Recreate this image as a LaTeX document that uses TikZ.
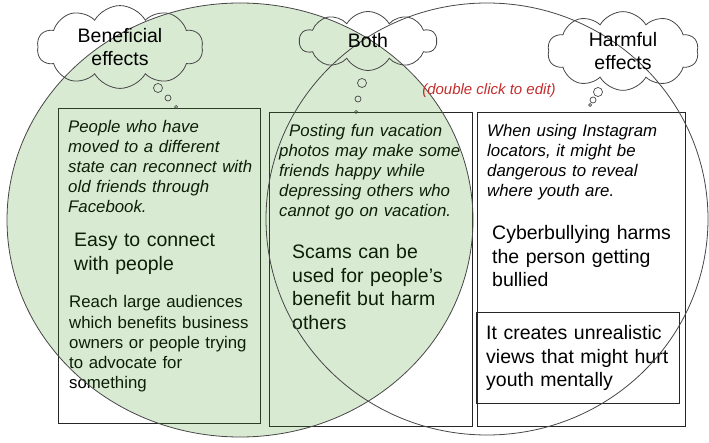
\documentclass[tikz,border=0pt]{standalone}
\usepackage{fontspec}
\setmainfont{Liberation Sans}
\usetikzlibrary{shapes.symbols}

\definecolor{vennGreen}{RGB}{65,150,35}
\definecolor{editRed}{RGB}{196,44,44}
\definecolor{lineGray}{RGB}{70,70,70}

\begin{document}
\begin{tikzpicture}[x=1pt, y=-1pt,
    box/.style={draw=black!85, line width=0.9pt, inner sep=0pt, anchor=north west},
    note/.style={font=\fontsize{16.8}{20}\selectfont\itshape, text width=200pt, align=left, inner sep=0pt, anchor=base west},
    plain/.style={font=\fontsize{16.8}{20.2}\selectfont, text width=200pt, align=left, inner sep=0pt, anchor=base west},
    point/.style={font=\fontsize{19.5}{23.5}\selectfont, text width=200pt, align=left, inner sep=0pt, anchor=base west},
    thought/.style={draw=lineGray, line width=0.8pt, cloud, cloud puffs=10, cloud puff arc=120,
        cloud ignores aspect, align=center, font=\fontsize{19.5}{23.5}\selectfont},
    bubble/.style={draw=lineGray, line width=0.7pt}]
    % Background
    \useasboundingbox (0,0) rectangle (709,443);

    % Boxes
    \node[box, minimum width=202, minimum height=315] (benefitBox) at (58,108) {};
    \node[box, minimum width=203, minimum height=314] (bothBox) at (269,112) {};
    \node[box, minimum width=208, minimum height=314] (harmBox) at (477,112) {};
    \node[box, minimum width=203, minimum height=91] (mentalBox) at (476,312) {};

    % Beneficial effects
    \node[note] (benefitNote) at (68,133) {People who have\\moved to a different\\state can reconnect with\\old friends through\\Facebook.};
    \node[point] (benefitConnect) at (74,247) {Easy to connect\\with people};
    \node[plain] (benefitReach) at (69,308) {Reach large audiences\\which benefits business\\owners or people trying\\to advocate for\\something};

    % Both
    \node[note] (bothNote) at (279,137) {\hspace*{10pt}Posting fun vacation\\photos may make some\\friends happy while\\depressing others who\\cannot go on vacation.};
    \node[point] (bothScams) at (292,259) {Scams can be\\used for people’s\\benefit but harm\\others};

    % Harmful effects
    \node[note] (harmNote) at (487,137) {When using Instagram\\locators, it might be\\dangerous to reveal\\where youth are.};
    \node[point] (harmBully) at (492,240) {Cyberbullying harms\\the person getting\\bullied};
    \node[point] (harmViews) at (486,340) {It creates unrealistic\\views that might hurt\\youth mentally};

    % Venn circles
    \draw[lineGray, line width=0.8pt, fill=vennGreen, fill opacity=0.2] (240,220) ellipse [x radius=233, y radius=217];
    \draw[lineGray, line width=0.8pt] (487,219) ellipse [x radius=221, y radius=216];

    % Clouds
    \node[thought, minimum width=166, minimum height=67] (benefitCloud) at (120,47) {Beneficial\\effects};
    \node[thought, minimum width=137, minimum height=59] (bothCloud) at (368,41) {Both};
    \node[thought, minimum width=151, minimum height=67] (harmCloud) at (623,51) {Harmful\\effects};

    % Thought bubbles
    \foreach \x/\y/\r in {158/88/4.5, 168/98/3, 176/107/1.5,
                          362/83/4.5, 358/99/3, 356/112/1.5,
                          598/92/4.5, 593/100/3, 590/105/1.5} {
        \draw[bubble] (\x,\y) circle [radius=\r];
    }

    % Hint
    \node[font=\fontsize{15}{18}\selectfont\itshape, text=editRed, anchor=base] (editHint) at (489,95) {(double click to edit)};
\end{tikzpicture}
\end{document}
